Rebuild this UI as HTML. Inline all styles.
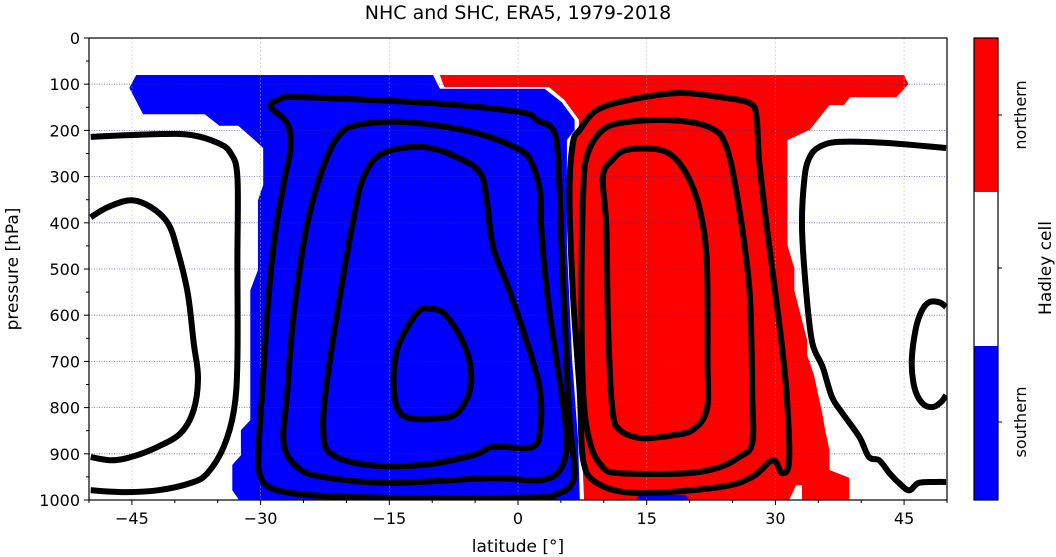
<!DOCTYPE html>
<html><head><meta charset="utf-8"><style>
body{margin:0;background:#fff;}
svg{display:block;font-family:"DejaVu Sans","Liberation Sans",sans-serif;}
</style></head><body>
<svg id="chart" width="1056" height="557" viewBox="0 0 1056 557">
<text x="518" y="19" font-size="19" text-anchor="middle">NHC and SHC, ERA5, 1979-2018</text>
<g id="fills"></g>
<g id="grid"></g>
<g id="contours"></g>
<rect x="89" y="38" width="858" height="462" fill="none" stroke="#000" stroke-width="1.2"/>
<g id="axes"></g>
<text x="518" y="552" font-size="17" text-anchor="middle">latitude [°]</text>
<text transform="translate(18,269) rotate(-90)" font-size="17" text-anchor="middle">pressure [hPa]</text>
<g>
<rect x="974" y="38" width="24" height="154" fill="#ff0000"/>
<rect x="974" y="192" width="24" height="154" fill="#ffffff"/>
<rect x="974" y="346" width="24" height="154" fill="#0000ff"/>
<rect x="974" y="38" width="24" height="462" fill="none" stroke="#000" stroke-width="1.2"/>
<line x1="998" y1="115" x2="1002" y2="115" stroke="#000"/>
<line x1="998" y1="268" x2="1002" y2="268" stroke="#000"/>
<line x1="998" y1="422" x2="1002" y2="422" stroke="#000"/>
<text transform="translate(1026,115) rotate(-90)" font-size="16" text-anchor="middle">northern</text>
<text transform="translate(1026,422) rotate(-90)" font-size="16" text-anchor="middle">southern</text>
<text transform="translate(1051,268) rotate(-90)" font-size="17" text-anchor="middle">Hadley cell</text>
</g>
</svg>
<script>
const xTicks=[-45,-30,-15,0,15,30,45];
const yTicks=[0,100,200,300,400,500,600,700,800,900,1000];
const blueFill=[[-44.5,80],[-45.3,108],[-43.7,165],[-36.5,165],[-34.8,190],[-32.6,190],[-30.8,219],[-29.7,238],[-29.7,318],[-30.3,351],[-30.3,502],[-31.2,546],[-31.2,827],[-32.3,849],[-32.3,903],[-33.3,924],[-33.3,979],[-32.5,1000],[7.2,1000],[7.0,870],[6.3,697],[5.7,448],[5.7,221],[6.6,199],[6.6,177],[5.1,139],[3.1,110],[-9.1,110],[-9.9,80]];
const redFill=[[-9.1,80],[45.0,80],[45.5,100],[44.1,128],[38.7,128],[38.0,145],[36.3,145],[35.1,173],[34.0,199],[31.4,221],[31.4,448],[32.2,498],[32.2,546],[32.8,589],[33.7,654],[33.7,686],[34.5,730],[35.5,816],[35.8,849],[36.3,892],[36.3,935],[38.6,952],[38.6,1000],[33.1,1000],[33.1,968],[32.4,968],[31.6,1000],[7.7,1000],[7.4,870],[6.7,697],[6.1,448],[6.1,221],[7.1,199],[7.1,177],[5.4,134],[3.6,106],[-8.6,106]];
const bluePatch=[[13.7,1000],[14.2,989],[19.5,989],[20.0,1000]];
const ringA=[[-28.8,149],[-27.7,132],[-25.3,128],[-10.2,141],[0.2,160],[2.2,178],[4.1,199],[4.7,264],[5.0,416],[5.5,632],[6.0,827],[6.6,935],[6.0,972],[4.3,989],[2.6,994],[-10.2,996],[-21.9,992],[-28.0,979],[-30.0,950],[-30.2,877],[-29.7,734],[-29.1,567],[-28.3,422],[-27.3,314],[-26.5,236],[-26.9,184]];
const ringB=[[-21.0,214],[-18.7,188],[-12.9,182],[-5.2,204],[0.2,242],[1.7,275],[2.6,336],[2.7,409],[3.4,552],[4.5,697],[5.2,784],[5.7,877],[4.9,935],[2.6,957],[-3.3,953],[-14.9,963],[-22.7,950],[-25.7,929],[-27.3,877],[-26.9,769],[-26.3,626],[-25.3,481],[-24.2,372],[-22.7,279]];
const ringC=[[-15.7,249],[-11.0,236],[-7.1,258],[-4.4,292],[-3.6,357],[-2.9,452],[-0.9,552],[1.7,697],[2.6,769],[2.6,842],[1.7,885],[-2.9,885],[-5.2,903],[-11.0,924],[-17.6,924],[-21.9,898],[-22.7,842],[-22.2,734],[-20.7,552],[-19.2,394],[-18.0,301]];
const ringD=[[-10.6,585],[-8.7,595],[-6.7,647],[-5.6,704],[-5.6,762],[-7.1,812],[-9.1,823],[-12.6,823],[-14.1,799],[-14.5,734],[-14.0,669],[-12.6,617],[-11.4,589]];
const west1=[[-49.8,214],[-42.0,208],[-38.1,210],[-35.0,227],[-33.5,249],[-32.7,301],[-32.7,481],[-32.7,697],[-33.1,805],[-34.3,885],[-36.2,942],[-38.1,963],[-42.0,979],[-45.9,983],[-49.8,979]];
const west2=[[-49.8,388],[-47.8,366],[-45.1,351],[-42.8,366],[-40.8,401],[-39.7,459],[-38.5,552],[-37.8,660],[-37.3,734],[-37.8,805],[-39.3,855],[-42.0,885],[-45.1,907],[-47.4,914],[-49.8,907]];
const northA=[[7.2,199],[6.4,227],[6.0,336],[6.4,552],[7.2,769],[7.6,914],[9.2,963],[13.8,985],[23.5,972],[27.3,950],[29.7,914],[30.8,942],[31.6,914],[31.3,769],[30.5,626],[29.0,409],[28.1,264],[27.8,171],[27.0,141],[23.5,128],[18.8,119],[13.0,134],[9.2,156]];
const northB=[[8.0,258],[9.5,206],[11.9,184],[17.7,178],[22.3,193],[24.3,236],[25.8,372],[27.0,552],[27.3,769],[27.3,877],[25.8,907],[23.5,929],[19.7,942],[11.9,942],[9.9,929],[8.4,877],[7.6,769],[7.4,552],[7.6,336]];
const northC=[[9.9,301],[11.0,264],[12.7,242],[16.5,242],[18.5,264],[20.0,307],[21.2,372],[22.0,481],[22.1,697],[22.0,805],[20.3,849],[18.0,860],[16.5,864],[14.2,866],[11.9,849],[11.0,805],[10.5,626],[10.3,409]];
const east1=[[49.9,238],[42.9,227],[37.4,225],[35.1,236],[34.0,258],[33.4,301],[33.1,409],[33.6,552],[34.3,660],[35.5,712],[36.6,777],[37.8,812],[39.8,864],[40.9,907],[42.1,914],[43.3,942],[44.4,963],[45.6,979],[46.7,963],[48.7,961],[49.9,961]];
const east2=[[49.9,582],[49.1,572],[47.9,572],[47.1,589],[46.4,626],[45.9,697],[46.2,756],[47.1,790],[48.3,799],[49.3,788],[49.9,773]];

const NS='http://www.w3.org/2000/svg';
const X=lat=>518+lat*8.58;
const Y=p=>38+p*0.462;
const pts=a=>a.map(d=>X(d[0]).toFixed(1)+','+Y(d[1]).toFixed(1)).join(' ');
function smooth(a,closed){
  const P=a.map(d=>[X(d[0]),Y(d[1])]);const n=P.length;
  const g=i=>closed?P[(i+n)%n]:P[Math.max(0,Math.min(n-1,i))];
  let s='M'+P[0][0].toFixed(1)+','+P[0][1].toFixed(1);
  const m=closed?n:n-1;
  for(let i=0;i<m;i++){const p0=g(i-1),p1=g(i),p2=g(i+1),p3=g(i+2);
    const c1=[p1[0]+(p2[0]-p0[0])/6,p1[1]+(p2[1]-p0[1])/6];
    const c2=[p2[0]-(p3[0]-p1[0])/6,p2[1]-(p3[1]-p1[1])/6];
    s+=' C'+c1[0].toFixed(1)+','+c1[1].toFixed(1)+' '+c2[0].toFixed(1)+','+c2[1].toFixed(1)+' '+p2[0].toFixed(1)+','+p2[1].toFixed(1);}
  return s+(closed?'Z':'');
}
function mk(tag,attrs,parent){const e=document.createElementNS(NS,tag);for(const k in attrs)e.setAttribute(k,attrs[k]);parent.appendChild(e);return e;}
const fills=document.getElementById('fills');
const clip=mk('clipPath',{id:'plotclip'},document.getElementById('chart'));
mk('rect',{x:89,y:38,width:858,height:462},clip);
let e;
e=mk('polygon',{points:pts(redFill),fill:'#ff0000'},fills);


e=mk('polygon',{points:pts(blueFill),fill:'#0000ff'},fills);


e=mk('polygon',{points:pts(bluePatch),fill:'#0000ff'},fills);



const grid=document.getElementById('grid');
yTicks.forEach(v=>{if(v>0&&v<1000){e=mk('line',{x1:89,x2:947,y1:Y(v),y2:Y(v),stroke:'#33338a','stroke-width':0.8,'stroke-dasharray':'1,1.5','stroke-opacity':0.7},grid);

}});
xTicks.forEach(v=>{e=mk('line',{x1:X(v),x2:X(v),y1:38,y2:500,stroke:'#b0b0b0','stroke-width':0.8,'stroke-dasharray':'2,2','stroke-opacity':0.6},grid);

});

const cont=document.getElementById('contours');
cont.setAttribute('clip-path','url(#plotclip)');
const closed={ringA,ringB,ringC,ringD,northA,northB,northC};
const open={west1,west2,east1,east2};
for(const k in closed){e=mk('path',{d:smooth(closed[k],true),fill:'none',stroke:'#000','stroke-width':6,'stroke-linejoin':'round'},cont);

}
for(const k in open){e=mk('path',{d:smooth(open[k],false),fill:'none',stroke:'#000','stroke-width':6,'stroke-linejoin':'round'},cont);

}

const axes=document.getElementById('axes');
for(let v=-50;v<=50;v+=5){const major=xTicks.includes(v);mk('line',{x1:X(v),x2:X(v),y1:500,y2:major?505:503,stroke:'#000','stroke-width':1},axes);}
xTicks.forEach(v=>{e=mk('text',{x:X(v),y:524,'font-size':16,'text-anchor':'middle'},axes);
e.textContent=(v<0?'\u2212'+(-v):v);

});
for(let v=0;v<=1000;v+=50){const major=v%100===0;mk('line',{x1:major?84:86,x2:89,y1:Y(v),y2:Y(v),stroke:'#000','stroke-width':1},axes);}
yTicks.forEach(v=>{e=mk('text',{x:80,y:Y(v)+6,'font-size':16,'text-anchor':'end'},axes);
e.textContent=v;

});
</script>
</body></html>
